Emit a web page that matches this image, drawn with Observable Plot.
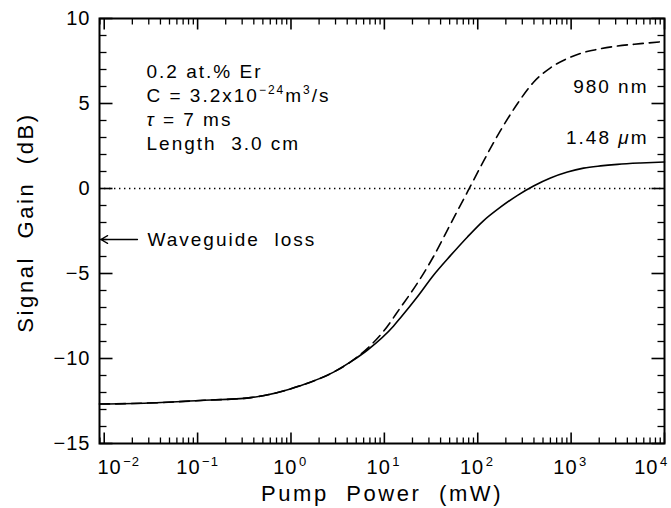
<!DOCTYPE html>
<html><head><meta charset="utf-8">
<script src="https://cdn.jsdelivr.net/npm/d3@7"></script>
<script src="https://cdn.jsdelivr.net/npm/@observablehq/plot@0.6"></script>
<style>
html,body{margin:0;padding:0;background:#fff;}
#chart svg{display:block;}
</style></head><body><div id="chart"></div>
<script>
// ---- data ----
const xDomain = [0.0089, 10000];          // pump power, mW (log axis)
const yDomain = [-15, 10];                // signal gain, dB
const xTickExponents = [-2, -1, 0, 1, 2, 3, 4];
const yMajorTicks = [-15, -10, -5, 0, 5, 10];
const yMinorTicks = [-14, -13, -12, -11, -9, -8, -7, -6, -4, -3, -2, -1, 1, 2, 3, 4, 6, 7, 8, 9];

// 1.48 um pump (solid)
const power148 = [0.0089, 0.03, 0.107, 0.37, 1.26, 2.86, 4.35, 6.6, 12.5, 14.9, 22.7, 33.6, 51, 77.6, 115, 175, 267, 396, 601, 914, 1358, 2065, 3140, 5535, 10000];
const gain148  = [-12.68, -12.62, -12.47, -12.3, -11.6, -10.8, -10.2, -9.5, -8.1, -7.6, -6.35, -5.1, -3.95, -2.85, -1.9, -1.1, -0.4, 0.15, 0.62, 0.97, 1.2, 1.33, 1.42, 1.5, 1.56];

// 980 nm pump (dashed)
const power980 = [0.0089, 0.03, 0.107, 0.37, 1.26, 2.86, 4.35, 6.6, 9.8, 14.9, 22.7, 33.6, 51, 77.6, 115, 175, 267, 396, 601, 914, 1358, 2065, 3140, 5535, 10000];
const gain980  = [-12.68, -12.62, -12.47, -12.3, -11.6, -10.8, -10.2, -9.4, -8.4, -7.0, -5.55, -4.0, -2.1, -0.2, 1.6, 3.4, 5.0, 6.25, 7.1, 7.65, 8.0, 8.22, 8.38, 8.52, 8.65];

const waveguideLoss = -3;                 // dB
const infoLines = ["0.2 at.% Er", "C = 3.2x10\u207B\u00B2\u2074m\u00B3/s", "\u03C4 = 7 ms", "Length  3.0 cm"];
const curveLabels = ["980 nm", "1.48 \u03BCm"];
const curveLabelGain = [6.0, 3.0];
const xTitle = "Pump  Power  (mW)";
const yTitle = "Signal  Gain  (dB)";
const lossText = "Waveguide  loss";

// ---- layout ----
const W = 671, H = 508, mL = 99, mR = 7, mT = 18, mB = 65;
const innerW = W - mL - mR, innerH = H - mT - mB;
const dBPerPx = (yDomain[1] - yDomain[0]) / innerH;
const decPerPx = Math.log10(xDomain[1] / xDomain[0]) / innerW;

// ---- derived tables ----
const data148 = power148.map((p, i) => ({p, g: gain148[i]}));
const data980 = power980.map((p, i) => ({p, g: gain980[i]}));
const xMajor = xTickExponents.map(e => 10 ** e);
const xMinor = [-3, ...xTickExponents]
  .flatMap(e => [2, 3, 4, 5, 6, 7, 8, 9].map(k => k * 10 ** e))
  .filter(v => v >= xDomain[0] * 1.005 && v < xDomain[1]);
const labelsTable = curveLabels.map((t, i) => ({t, g: curveLabelGain[i]}));

// ---- x tick labels: "10" + superscript exponent ----
const xLabelMarks = xTickExponents.flatMap((e, i) => {
  const v = 10 ** e;
  const exp = e < 0 ? "\u2212" + (-e) : String(e);
  let baseEnd;
  if (i === 0) baseEnd = 17.5;
  else if (i === xTickExponents.length - 1) baseEnd = -6;
  else baseEnd = e < 0 ? 3 : 6.5;
  return [
    Plot.text([v], {x: d => d, frameAnchor: "bottom", text: () => "10", textAnchor: "end",
      lineAnchor: "bottom", dx: baseEnd, dy: 30, fontSize: 20}),
    Plot.text([v], {x: d => d, frameAnchor: "bottom", text: () => exp, textAnchor: "start",
      lineAnchor: "bottom", dx: baseEnd + 1.5, dy: 22, fontSize: 13})
  ];
});

const infoMarks = infoLines.map((line, i) =>
  Plot.text([line], {frameAnchor: "top-left", text: d => d, dx: 47, dy: 59 + 24 * i,
    textAnchor: "start", lineAnchor: "bottom", fontSize: 19}));

// inward ticks as short links, length given in pixels and converted through the scale spans
const tickBottom = (vals, len, sw) => Plot.link(vals, {x1: d => d, x2: d => d,
  y1: () => yDomain[0], y2: () => yDomain[0] + len * dBPerPx, strokeWidth: sw});
const tickTop = (vals, len, sw) => Plot.link(vals, {x1: d => d, x2: d => d,
  y1: () => yDomain[1], y2: () => yDomain[1] - len * dBPerPx, strokeWidth: sw});
const tickLeft = (vals, len, sw) => Plot.link(vals, {y1: d => d, y2: d => d,
  x1: () => xDomain[0], x2: () => xDomain[0] * 10 ** (len * decPerPx), strokeWidth: sw});
const tickRight = (vals, len, sw) => Plot.link(vals, {y1: d => d, y2: d => d,
  x1: () => xDomain[1], x2: () => xDomain[1] / 10 ** (len * decPerPx), strokeWidth: sw});

const chart = Plot.plot({
  width: W,
  height: H,
  marginLeft: mL,
  marginRight: mR,
  marginTop: mT,
  marginBottom: mB,
  style: {fontFamily: "'Liberation Sans', Arial, Helvetica, sans-serif", background: "white", color: "black"},
  x: {type: "log", domain: xDomain, axis: null},
  y: {domain: yDomain, axis: null},
  marks: [
    Plot.ruleY([0], {strokeDasharray: "1.4,3.6", strokeWidth: 1.4}),
    Plot.line(data980, {x: "p", y: "g", curve: "monotone-x", strokeWidth: 1.6, strokeDasharray: "10,6"}),
    Plot.line(data148, {x: "p", y: "g", curve: "monotone-x", strokeWidth: 1.6}),
    tickBottom(xMajor, 11, 1.6), tickBottom(xMinor, 6, 1.3),
    tickTop(xMajor, 11, 1.6), tickTop(xMinor, 6, 1.3),
    tickLeft(yMajorTicks, 13, 1.6), tickLeft(yMinorTicks, 7, 1.3),
    tickRight(yMajorTicks, 13, 1.6), tickRight(yMinorTicks, 7, 1.3),
    Plot.frame({strokeWidth: 2}),
    // y tick labels
    Plot.text(yMajorTicks, {y: d => d, frameAnchor: "left", text: d => d < 0 ? "\u2212" + (-d) : String(d),
      dx: -9, textAnchor: "end", lineAnchor: "middle", fontSize: 20}),
    ...xLabelMarks,
    // axis titles
    Plot.text([xTitle], {frameAnchor: "bottom", text: d => d, dy: 57, lineAnchor: "bottom", fontSize: 22}),
    Plot.text([yTitle], {x: () => xDomain[0], y: () => -2, text: d => d, dx: -74, rotate: -90,
      textAnchor: "middle", lineAnchor: "middle", fontSize: 22}),
    // annotations
    ...infoMarks,
    Plot.arrow([waveguideLoss], {x1: 0.0227, x2: 0.0092, y1: d => d, y2: d => d, headLength: 9, headAngle: 60, strokeWidth: 1.3}),
    Plot.text([waveguideLoss], {y: d => d, frameAnchor: "left", text: () => lossText, dx: 48, textAnchor: "start", lineAnchor: "middle", fontSize: 19}),
    Plot.text(labelsTable, {x: () => xDomain[1], y: "g", text: "t", dx: -16, textAnchor: "end", lineAnchor: "middle", fontSize: 19})
  ]
});

document.getElementById("chart").appendChild(chart);

// ---- typographic post-processing (letter spacing, superscripts, italics) ----
const NS = "http://www.w3.org/2000/svg";
const wide = new Set([...infoLines, lossText, ...curveLabels]);
const titles = new Set([xTitle, yTitle]);
function rich(el, parts) {
  el.textContent = "";
  let shift = 0;
  for (const [s, kind] of parts) {
    const ts = document.createElementNS(NS, "tspan");
    ts.textContent = s;
    if (kind === "sup") { ts.setAttribute("font-size", "12"); ts.setAttribute("dy", String(-8 - shift)); shift = -8; }
    else if (shift) { ts.setAttribute("dy", String(-shift)); shift = 0; }
    if (kind === "it") ts.setAttribute("font-style", "italic");
    el.appendChild(ts);
  }
}
d3.select(chart).selectAll("text").each(function () {
  const t = this.textContent;
  if (wide.has(t)) this.style.letterSpacing = "2px";
  else if (titles.has(t)) this.style.letterSpacing = "2.6px";
  else this.style.letterSpacing = "1px";
  if (t === infoLines[1]) rich(this, [["C = 3.2x10"], ["\u221224", "sup"], ["m"], ["3", "sup"], ["/s"]]);
  if (t === infoLines[2]) rich(this, [["\u03C4", "it"], [" = 7 ms"]]);
  if (t === curveLabels[1]) rich(this, [["1.48 "], ["\u03BC", "it"], ["m"]]);
});
</script>
</body></html>
